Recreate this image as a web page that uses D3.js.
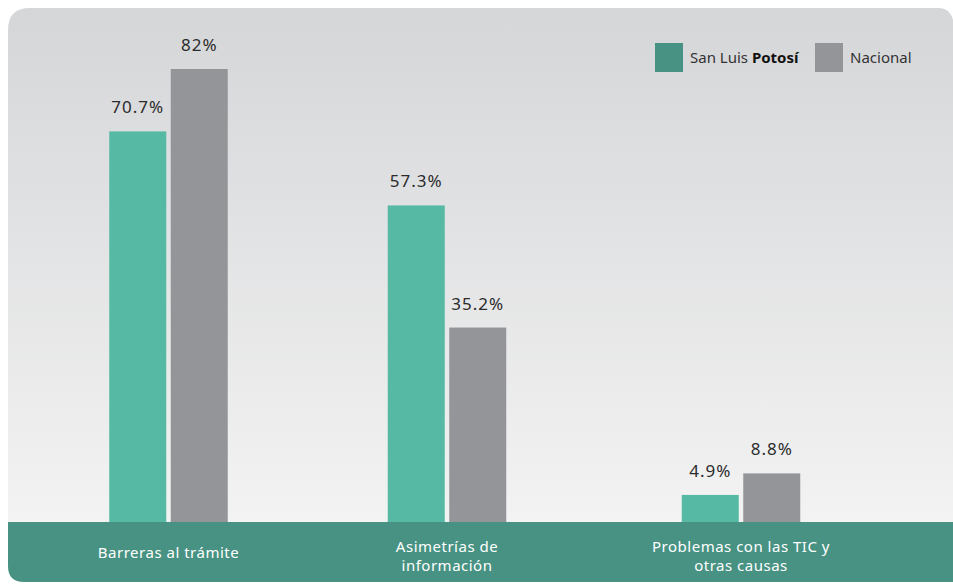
<!DOCTYPE html>
<html>
<head>
<meta charset="utf-8">
<script src="https://cdn.jsdelivr.net/npm/d3@7"></script>
<style>
  body { margin: 0; background: #ffffff; }
  text { font-family: "Noto Sans", "Lato", sans-serif; }
</style>
</head>
<body>
<svg id="chart-area" width="953" height="584"></svg>
<script>
// data
var categories = [['Barreras al trámite'], ['Asimetrías de', 'información'], ['Problemas con las TIC y', 'otras causas']];
var slp = [70.7, 57.3, 4.9];
var nacional = [82, 35.2, 8.8];
var valueLabels = [['70.7%', '82%'], ['57.3%', '35.2%'], ['4.9%', '8.8%']];
var seriesNames = ['San Luis Potosí', 'Nacional'];

var svgWidth = 953, svgHeight = 584;
var svg = d3.select('#chart-area');

// background panel with gradient
var defs = svg.append('defs');
var grad = defs.append('linearGradient')
  .attr('id', 'bg').attr('x1', 0).attr('y1', 0).attr('x2', 0).attr('y2', 1);
grad.append('stop').attr('offset', '0%').attr('stop-color', '#d5d6d8');
grad.append('stop').attr('offset', '100%').attr('stop-color', '#f6f6f6');

var panelPath = 'M8,30 Q8,8 30,8 L938,8 Q950,8 953,20 L953,582 L24,582 Q8,582 8,566 Z';
svg.append('path').attr('d', panelPath).attr('fill', 'url(#bg)');

var baseY = 522;
svg.append('path')
  .attr('d', 'M8,' + baseY + ' L953,' + baseY + ' L953,582 L24,582 Q8,582 8,566 Z')
  .attr('fill', '#479282');

// scales (group centres are not evenly spaced in the original)
var x = d3.scaleOrdinal()
  .domain(d3.range(categories.length))
  .range([168.5, 447, 741]);

var y = d3.scaleLinear()
  .domain([0, 82])
  .range([baseY, 69]);

var barW = 57, gap = 4.5;
var colors = ['#55b9a3', '#939598'];
var legendColors = ['#479282', '#939598'];

var g = svg.append('g');

var groups = g.selectAll('.grp')
  .data(categories.map(function (c, i) { return { i: i, vals: [slp[i], nacional[i]] }; }))
  .enter().append('g')
  .attr('class', 'grp')
  .attr('transform', function (d) { return 'translate(' + x(d.i) + ',0)'; });

groups.selectAll('rect')
  .data(function (d) { return d.vals.map(function (v, k) { return { v: v, k: k, i: d.i }; }); })
  .enter().append('rect')
  .attr('x', function (d) { return d.k === 0 ? -barW - gap / 2 : gap / 2; })
  .attr('y', function (d) { return y(d.v); })
  .attr('width', barW)
  .attr('height', function (d) { return baseY - y(d.v); })
  .attr('fill', function (d) { return colors[d.k]; });

groups.selectAll('text.val')
  .data(function (d) { return d.vals.map(function (v, k) { return { v: v, k: k, i: d.i }; }); })
  .enter().append('text')
  .attr('class', 'val')
  .attr('x', function (d) { return d.k === 0 ? -barW / 2 - gap / 2 : barW / 2 + gap / 2; })
  .attr('y', function (d) { return y(d.v) - 18; })
  .attr('text-anchor', 'middle')
  .attr('font-size', 17)
  .attr('letter-spacing', 1)
  .attr('fill', '#2b2b2b')
  .text(function (d) { return valueLabels[d.i][d.k]; });

// category labels
groups.each(function (d) {
  var lines = categories[d.i];
  var t = d3.select(this).append('text')
    .attr('text-anchor', 'middle')
    .attr('font-size', 15)
    .attr('letter-spacing', 0.5)
    .attr('fill', '#ffffff');
  var y0 = lines.length === 1 ? 558 : 552;
  lines.forEach(function (l, j) {
    t.append('tspan').attr('x', 0).attr('y', y0 + j * 19).text(l);
  });
});

// legend
var legend = svg.append('g').attr('transform', 'translate(655,43)');
legend.append('rect').attr('x', 0).attr('y', 0).attr('width', 28).attr('height', 29).attr('fill', legendColors[0]);
var lt = legend.append('text').attr('x', 35).attr('y', 20).attr('font-size', 15).attr('fill', '#333');
lt.append('tspan').text('San Luis ');
lt.append('tspan').attr('font-weight', 'bold').attr('fill', '#111').text('Potosí');
legend.append('rect').attr('x', 160).attr('y', 0).attr('width', 28).attr('height', 29).attr('fill', legendColors[1]);
legend.append('text').attr('x', 195).attr('y', 20).attr('font-size', 15).attr('fill', '#333').text(seriesNames[1]);
</script>
</body>
</html>
